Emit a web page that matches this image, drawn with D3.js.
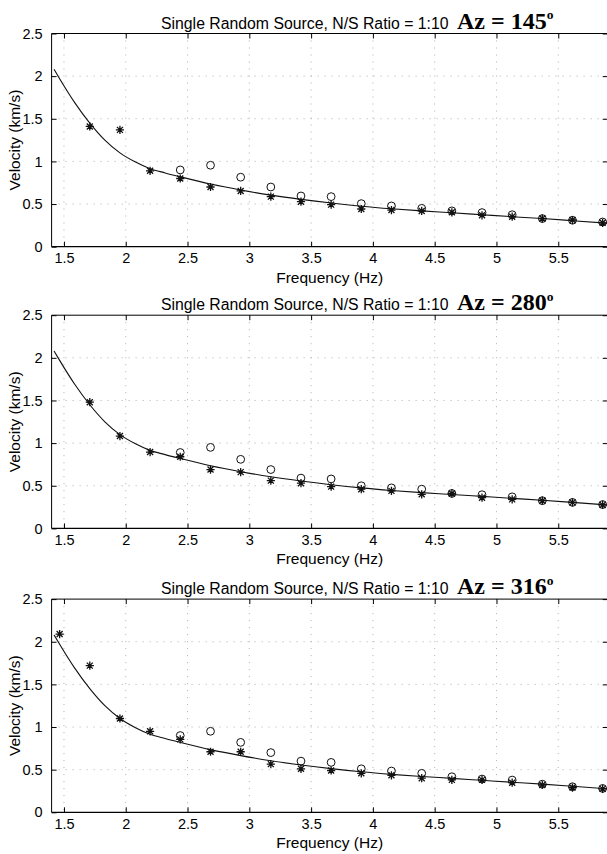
<!DOCTYPE html>
<html>
<head>
<meta charset="utf-8">
<script src="https://cdn.jsdelivr.net/npm/d3@7"></script>
<style>
  html, body { margin: 0; padding: 0; background: #fff; }
  svg { display: block; }
</style>
</head>
<body>
<svg id="chart" width="607" height="854"></svg>
<script>
// ---------------- DATA ----------------
const frequencies = [1.465, 1.709, 1.953, 2.197, 2.441, 2.686, 2.930, 3.174, 3.418, 3.662,
                     3.906, 4.150, 4.395, 4.639, 4.883, 5.127, 5.371, 5.615, 5.859];

const modelFreq = [1.42, 1.465, 1.587, 1.709, 1.831, 1.953, 2.075, 2.197, 2.319, 2.441, 2.686, 2.930,
                   3.174, 3.418, 3.662, 3.906, 4.150, 4.395, 4.639, 4.883, 5.127, 5.371, 5.615, 5.90];
const modelVel  = [2.08, 1.97, 1.69, 1.45, 1.25, 1.10, 0.995, 0.915, 0.865, 0.82, 0.735, 0.665,
                   0.605, 0.555, 0.512, 0.475, 0.445, 0.42, 0.398, 0.375, 0.352, 0.33, 0.305, 0.275];

const circles145 = [null, null, null, null, 0.90, 0.955, 0.815, 0.70, 0.595, 0.587, 0.505, 0.478, 0.45, 0.42, 0.40, 0.375, 0.33, 0.31, 0.29];
const stars145   = [null, 1.41, 1.37, 0.89, 0.80, 0.70, 0.654, 0.587, 0.528, 0.493, 0.442, 0.43, 0.419, 0.403, 0.368, 0.352, 0.33, 0.313, 0.28];

const circles280 = [null, null, null, null, 0.89, 0.95, 0.81, 0.69, 0.59, 0.58, 0.50, 0.475, 0.46, 0.41, 0.395, 0.37, 0.325, 0.305, 0.28];
const stars280   = [null, 1.48, 1.083, 0.895, 0.84, 0.69, 0.66, 0.56, 0.53, 0.49, 0.46, 0.44, 0.40, 0.41, 0.36, 0.34, 0.325, 0.305, 0.275];

const circles316 = [null, null, null, null, 0.90, 0.95, 0.82, 0.70, 0.60, 0.585, 0.51, 0.484, 0.457, 0.417, 0.39, 0.378, 0.33, 0.30, 0.28];
const stars316   = [2.09, 1.72, 1.10, 0.95, 0.855, 0.71, 0.71, 0.565, 0.51, 0.49, 0.457, 0.434, 0.40, 0.38, 0.38, 0.347, 0.32, 0.29, 0.275];

const azimuths = ["145", "280", "316"];
const titleText = "Single Random Source, N/S Ratio = 1:10";
const xTicks = [1.5, 2, 2.5, 3, 3.5, 4, 4.5, 5, 5.5];
const yTicks = [0, 0.5, 1, 1.5, 2, 2.5];
const xDomain = [1.4, 5.9];
const yDomain = [0, 2.5];
const xLabel = "Frequency (Hz)";
const yLabel = "Velocity (km/s)";

const panels = [
  { az: azimuths[0], circles: circles145, stars: stars145 },
  { az: azimuths[1], circles: circles280, stars: stars280 },
  { az: azimuths[2], circles: circles316, stars: stars316 }
];

// ---------------- LAYOUT ----------------
const left = 51.6, right = 607.7;
const tops = [33.5, 315.2, 599.1];
const plotH = 213.2;
const sans = "'Liberation Sans', Arial, Helvetica, sans-serif";
const serif = "'Liberation Serif', 'Times New Roman', serif";

const svg = d3.select("#chart");
const x = d3.scaleLinear().domain(xDomain).range([left, right]);

panels.forEach((p, i) => {
  const top = tops[i], bottom = top + plotH;
  const y = d3.scaleLinear().domain(yDomain).range([bottom, top]);
  const g = svg.append("g");

  // grid
  g.append("g").selectAll("line").data(xTicks).join("line")
    .attr("x1", d => x(d)).attr("x2", d => x(d))
    .attr("y1", top).attr("y2", bottom)
    .attr("stroke", "#9a9a9a").attr("stroke-width", 0.8)
    .attr("stroke-dasharray", "1,6");
  g.append("g").selectAll("line").data(yTicks.slice(1, -1)).join("line")
    .attr("x1", left).attr("x2", right)
    .attr("y1", d => y(d)).attr("y2", d => y(d))
    .attr("stroke", "#9a9a9a").attr("stroke-width", 0.8)
    .attr("stroke-dasharray", "1,6");

  // model curve
  const line = d3.line()
    .x(d => x(d[0])).y(d => y(d[1]))
    .curve(d3.curveMonotoneX);
  g.append("path")
    .datum(modelFreq.map((f, k) => [f, modelVel[k]]))
    .attr("d", line)
    .attr("fill", "none").attr("stroke", "#111").attr("stroke-width", 1.1);

  // circles
  g.append("g").selectAll("circle")
    .data(frequencies.map((f, k) => [f, p.circles[k]]).filter(d => d[1] != null))
    .join("circle")
    .attr("cx", d => x(d[0])).attr("cy", d => y(d[1]))
    .attr("r", 3.9)
    .attr("fill", "none").attr("stroke", "#111").attr("stroke-width", 1);

  // stars
  const s = 4.1, sd = 3.0;
  const starG = g.append("g").selectAll("g")
    .data(frequencies.map((f, k) => [f, p.stars[k]]).filter(d => d[1] != null))
    .join("g")
    .attr("transform", d => `translate(${x(d[0])},${y(d[1])})`);
  starG.append("path")
    .attr("d", `M${-s},0H${s}M0,${-s}V${s}M${-sd},${-sd}L${sd},${sd}M${-sd},${sd}L${sd},${-sd}`)
    .attr("stroke", "#111").attr("stroke-width", 1.3).attr("fill", "none");

  // frame
  g.append("line").attr("x1", left).attr("x2", right).attr("y1", top).attr("y2", top)
    .attr("stroke", "#000").attr("stroke-width", 1);
  g.append("line").attr("x1", left).attr("x2", right).attr("y1", bottom).attr("y2", bottom)
    .attr("stroke", "#000").attr("stroke-width", 1.2);
  g.append("line").attr("x1", left).attr("x2", left).attr("y1", top).attr("y2", bottom)
    .attr("stroke", "#000").attr("stroke-width", 1);
  g.append("line").attr("x1", right).attr("x2", right).attr("y1", top).attr("y2", bottom)
    .attr("stroke", "#000").attr("stroke-width", 1);

  // ticks (inward) via axes
  const tl = 5;
  const bAxis = d3.axisBottom(x).tickValues(xTicks).tickSize(-tl).tickPadding(6.5)
    .tickFormat(d3.format("~g"));
  const bg = g.append("g").attr("transform", `translate(0,${bottom})`).call(bAxis);
  bg.select(".domain").remove();
  bg.selectAll("text").attr("font-family", sans).attr("font-size", 14.5).attr("fill", "#000");

  const tAxis = d3.axisTop(x).tickValues(xTicks).tickSize(-tl).tickFormat("");
  const tg = g.append("g").attr("transform", `translate(0,${top})`).call(tAxis);
  tg.select(".domain").remove();

  const lAxis = d3.axisLeft(y).tickValues(yTicks).tickSize(-tl).tickPadding(tl + 4)
    .tickFormat(d3.format("~g"));
  const lg = g.append("g").attr("transform", `translate(${left},0)`).call(lAxis);
  lg.select(".domain").remove();
  lg.selectAll("text").attr("font-family", sans).attr("font-size", 14.5).attr("fill", "#000");

  const rAxis = d3.axisRight(y).tickValues(yTicks).tickSize(-tl).tickFormat("");
  const rg = g.append("g").attr("transform", `translate(${right},0)`).call(rAxis);
  rg.select(".domain").remove();

  g.selectAll(".tick line").attr("stroke", "#000").attr("stroke-width", 1);

  // x label
  g.append("text")
    .attr("x", (left + right) / 2).attr("y", bottom + 36)
    .attr("text-anchor", "middle")
    .attr("font-family", sans).attr("font-size", 15.5)
    .text(xLabel);

  // y label
  g.append("text")
    .attr("transform", `translate(20,${(top + bottom) / 2}) rotate(-90)`)
    .attr("text-anchor", "middle")
    .attr("font-family", sans).attr("font-size", 15.5)
    .text(yLabel);

  // title
  g.append("text")
    .attr("x", 161).attr("y", top - 5)
    .attr("font-family", sans).attr("font-size", 15.8)
    .text(titleText);

  // azimuth label
  const az = g.append("text")
    .attr("x", 457).attr("y", top - 5)
    .attr("font-family", serif).attr("font-weight", "bold").attr("font-size", 24);
  az.append("tspan").text("Az = " + p.az);
  az.append("tspan").attr("font-size", 13.5).attr("dy", -9.5).text("o");
});
</script>
</body>
</html>
